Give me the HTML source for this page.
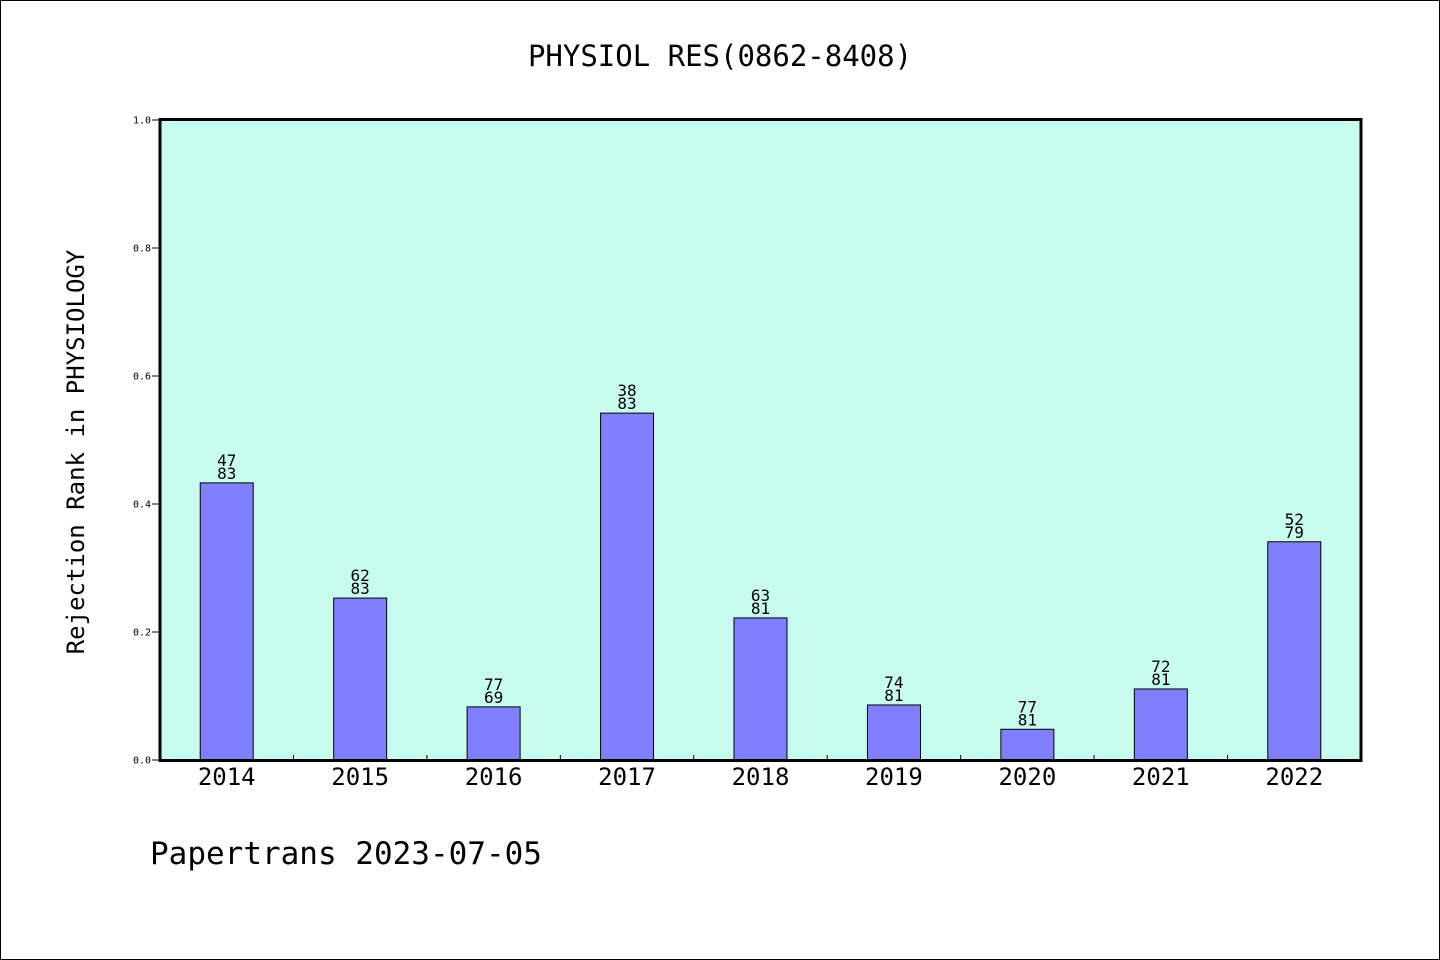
<!DOCTYPE html>
<html><head><meta charset="utf-8"><style>
html,body{margin:0;padding:0;background:#fff;}
svg{display:block;font-family:"WenQuanYi Zen Hei","DejaVu Sans Mono",monospace;}
</style></head><body>
<svg id="chart" width="1440" height="960" viewBox="0 0 1440 960">
<rect x="0.5" y="0.5" width="1439" height="959" fill="#fff" stroke="#000"/>
<text x="720" y="66" font-size="29" text-anchor="middle">PHYSIOL RES(0862-8408)</text>
<rect x="160" y="119.5" width="1201" height="641" fill="#c8fcee"/>
<g id="marks"></g>
<rect x="160" y="119.5" width="1201" height="641" fill="none" stroke="#000" stroke-width="3"/>
<text transform="translate(84,452) rotate(-90)" font-size="24" text-anchor="middle">Rejection Rank in PHYSIOLOGY</text>
<text x="150" y="864" font-size="31">Papertrans 2023-07-05</text>
</svg>
<script>
const categories = ["2014","2015","2016","2017","2018","2019","2020","2021","2022"];
const values = [0.433,0.253,0.083,0.542,0.222,0.086,0.048,0.111,0.341];
const rankLabels = ["47","62","77","38","63","74","77","72","52"];
const totalLabels = ["83","83","69","83","81","81","81","81","79"];
const yTicks = [0,0.2,0.4,0.6,0.8,1.0];
const yTickLabels = ["0.0","0.2","0.4","0.6","0.8","1.0"];

const NS = "http://www.w3.org/2000/svg";
const X0 = 160, X1 = 1361, Y0 = 760, Y1 = 120;
const band = (X1 - X0) / categories.length;
const xCenter = i => X0 + band * (i + 0.5);
const yPos = v => Y0 - (v) * (Y0 - Y1);
const g = document.getElementById("marks");
function mk(tag, attrs, text){
  const e = document.createElementNS(NS, tag);
  for (const k in attrs) e.setAttribute(k, attrs[k]);
  if (text !== undefined) e.textContent = text;
  g.appendChild(e);
  return e;
}
yTicks.forEach((t, i) => {
  const y = yPos(t);
  const tk = mk("line", {x1: 152, x2: 160, y1: y, y2: y, stroke: "#000", "stroke-width": 1});
  
  
  const lb = mk("text", {x: 151, y: y + 3.5, "font-size": 10, "text-anchor": "end"}, yTickLabels[i]);
  
  
});
categories.forEach((c, i) => {
  const cx = xCenter(i);
  const bw = 53;
  const top = yPos(values[i]);
  const r = mk("rect", {x: cx - bw/2, y: top, width: bw, height: Y0 - top, fill: "#8080ff", stroke: "#000", "stroke-width": 1});
  
  
  const l1 = mk("text", {x: cx, y: top - 17, "font-size": 16, "text-anchor": "middle"}, rankLabels[i]);
  
  
  const l2 = mk("text", {x: cx, y: top - 4, "font-size": 16, "text-anchor": "middle"}, totalLabels[i]);
  
  
  const xl = mk("text", {x: cx, y: 785, "font-size": 24, "text-anchor": "middle"}, c);
  
  
  if (i > 0) {
    const sx = X0 + band * i;
    const st = mk("line", {x1: sx, x2: sx, y1: Y0 - 5, y2: Y0, stroke: "#000", "stroke-width": 1});
    
    
  }
});
</script>
</body></html>
